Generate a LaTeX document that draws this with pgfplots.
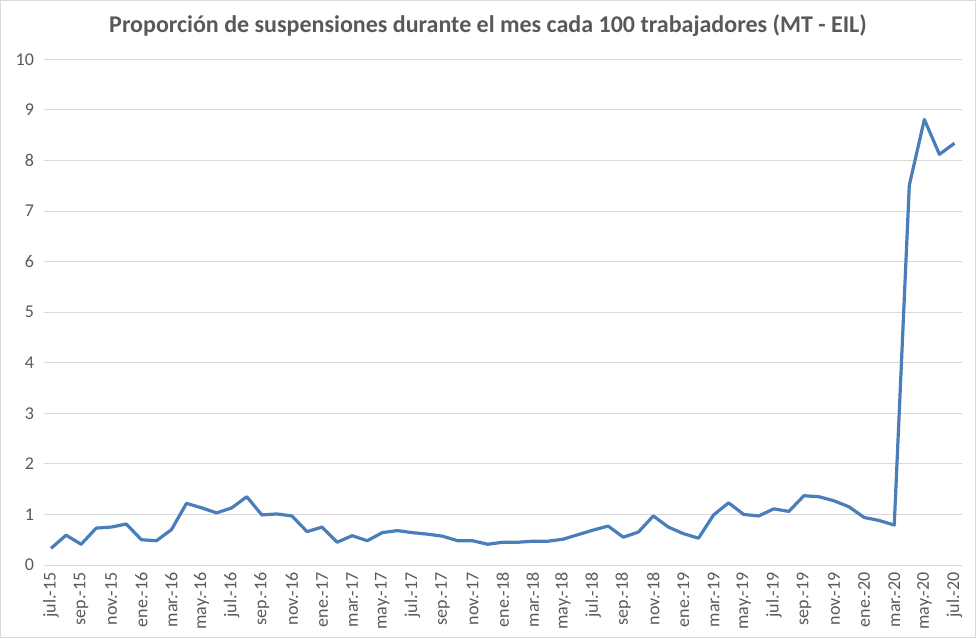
\documentclass[border=0pt]{standalone}
\usepackage{pgfplots}
\pgfplotsset{compat=1.18}
\usepackage{fontspec}
\setmainfont{Carlito}
\definecolor{txtc}{HTML}{595959}
\definecolor{gridc}{HTML}{D9D9D9}
\definecolor{linec}{RGB}{74,126,187}
\begin{document}
\begin{tikzpicture}[x=1pt,y=1pt]
\useasboundingbox (0,0) rectangle (976,638);
\draw[gridc] (0.5,0.5) rectangle (975.5,637.5);
\node[anchor=base,text=txtc,font=\fontsize{24}{27}\selectfont\bfseries] at (488,605) {Proporción de suspensiones durante el mes cada 100 trabajadores (MT - EIL)};
\begin{axis}[
  at={(43.5pt,73pt)}, anchor=south west,
  scale only axis, width=918.5pt, height=505.7pt,
  xmin=-0.5, xmax=60.5, ymin=0, ymax=10,
  ytick={0,1,...,10},
  xtick={0,2,...,60},
  xticklabels={jul.-15,sep.-15,nov.-15,ene.-16,mar.-16,may.-16,jul.-16,sep.-16,nov.-16,ene.-17,mar.-17,may.-17,jul.-17,sep.-17,nov.-17,ene.-18,mar.-18,may.-18,jul.-18,sep.-18,nov.-18,ene.-19,mar.-19,may.-19,jul.-19,sep.-19,nov.-19,ene.-20,mar.-20,may.-20,jul.-20},
  x tick label style={rotate=90, anchor=east},
  xticklabel shift=4pt,
  yticklabel shift=6pt,
  tick label style={text=txtc, font=\fontsize{18}{20}\selectfont},
  /pgf/number format/assume math mode=true,
  major tick length=0pt,
  axis line style={draw=none},
  ymajorgrids=true, xmajorgrids=false,
  grid style={draw=gridc, line width=1pt},
  clip=false,
]
\draw[gridc, line width=1pt] (axis cs:-0.5,0) -- (axis cs:60.5,0);
\addplot[linec, line width=3.2pt, line join=round, mark=none] coordinates {
(0,0.33) (1,0.59) (2,0.41) (3,0.73) (4,0.75) (5,0.81)
(6,0.50) (7,0.48) (8,0.70) (9,1.22) (10,1.13) (11,1.03) (12,1.13) (13,1.35) (14,0.99) (15,1.01) (16,0.97) (17,0.66)
(18,0.75) (19,0.45) (20,0.58) (21,0.48) (22,0.64) (23,0.68) (24,0.64) (25,0.61) (26,0.57) (27,0.48) (28,0.48) (29,0.41)
(30,0.45) (31,0.45) (32,0.47) (33,0.47) (34,0.51) (35,0.60) (36,0.69) (37,0.77) (38,0.55) (39,0.65) (40,0.97) (41,0.75)
(42,0.62) (43,0.53) (44,0.99) (45,1.23) (46,1.00) (47,0.97) (48,1.11) (49,1.06) (50,1.37) (51,1.35) (52,1.27) (53,1.15)
(54,0.94) (55,0.88) (56,0.79) (57,7.51) (58,8.81) (59,8.12) (60,8.34)
};
\end{axis}
\end{tikzpicture}
\end{document}
